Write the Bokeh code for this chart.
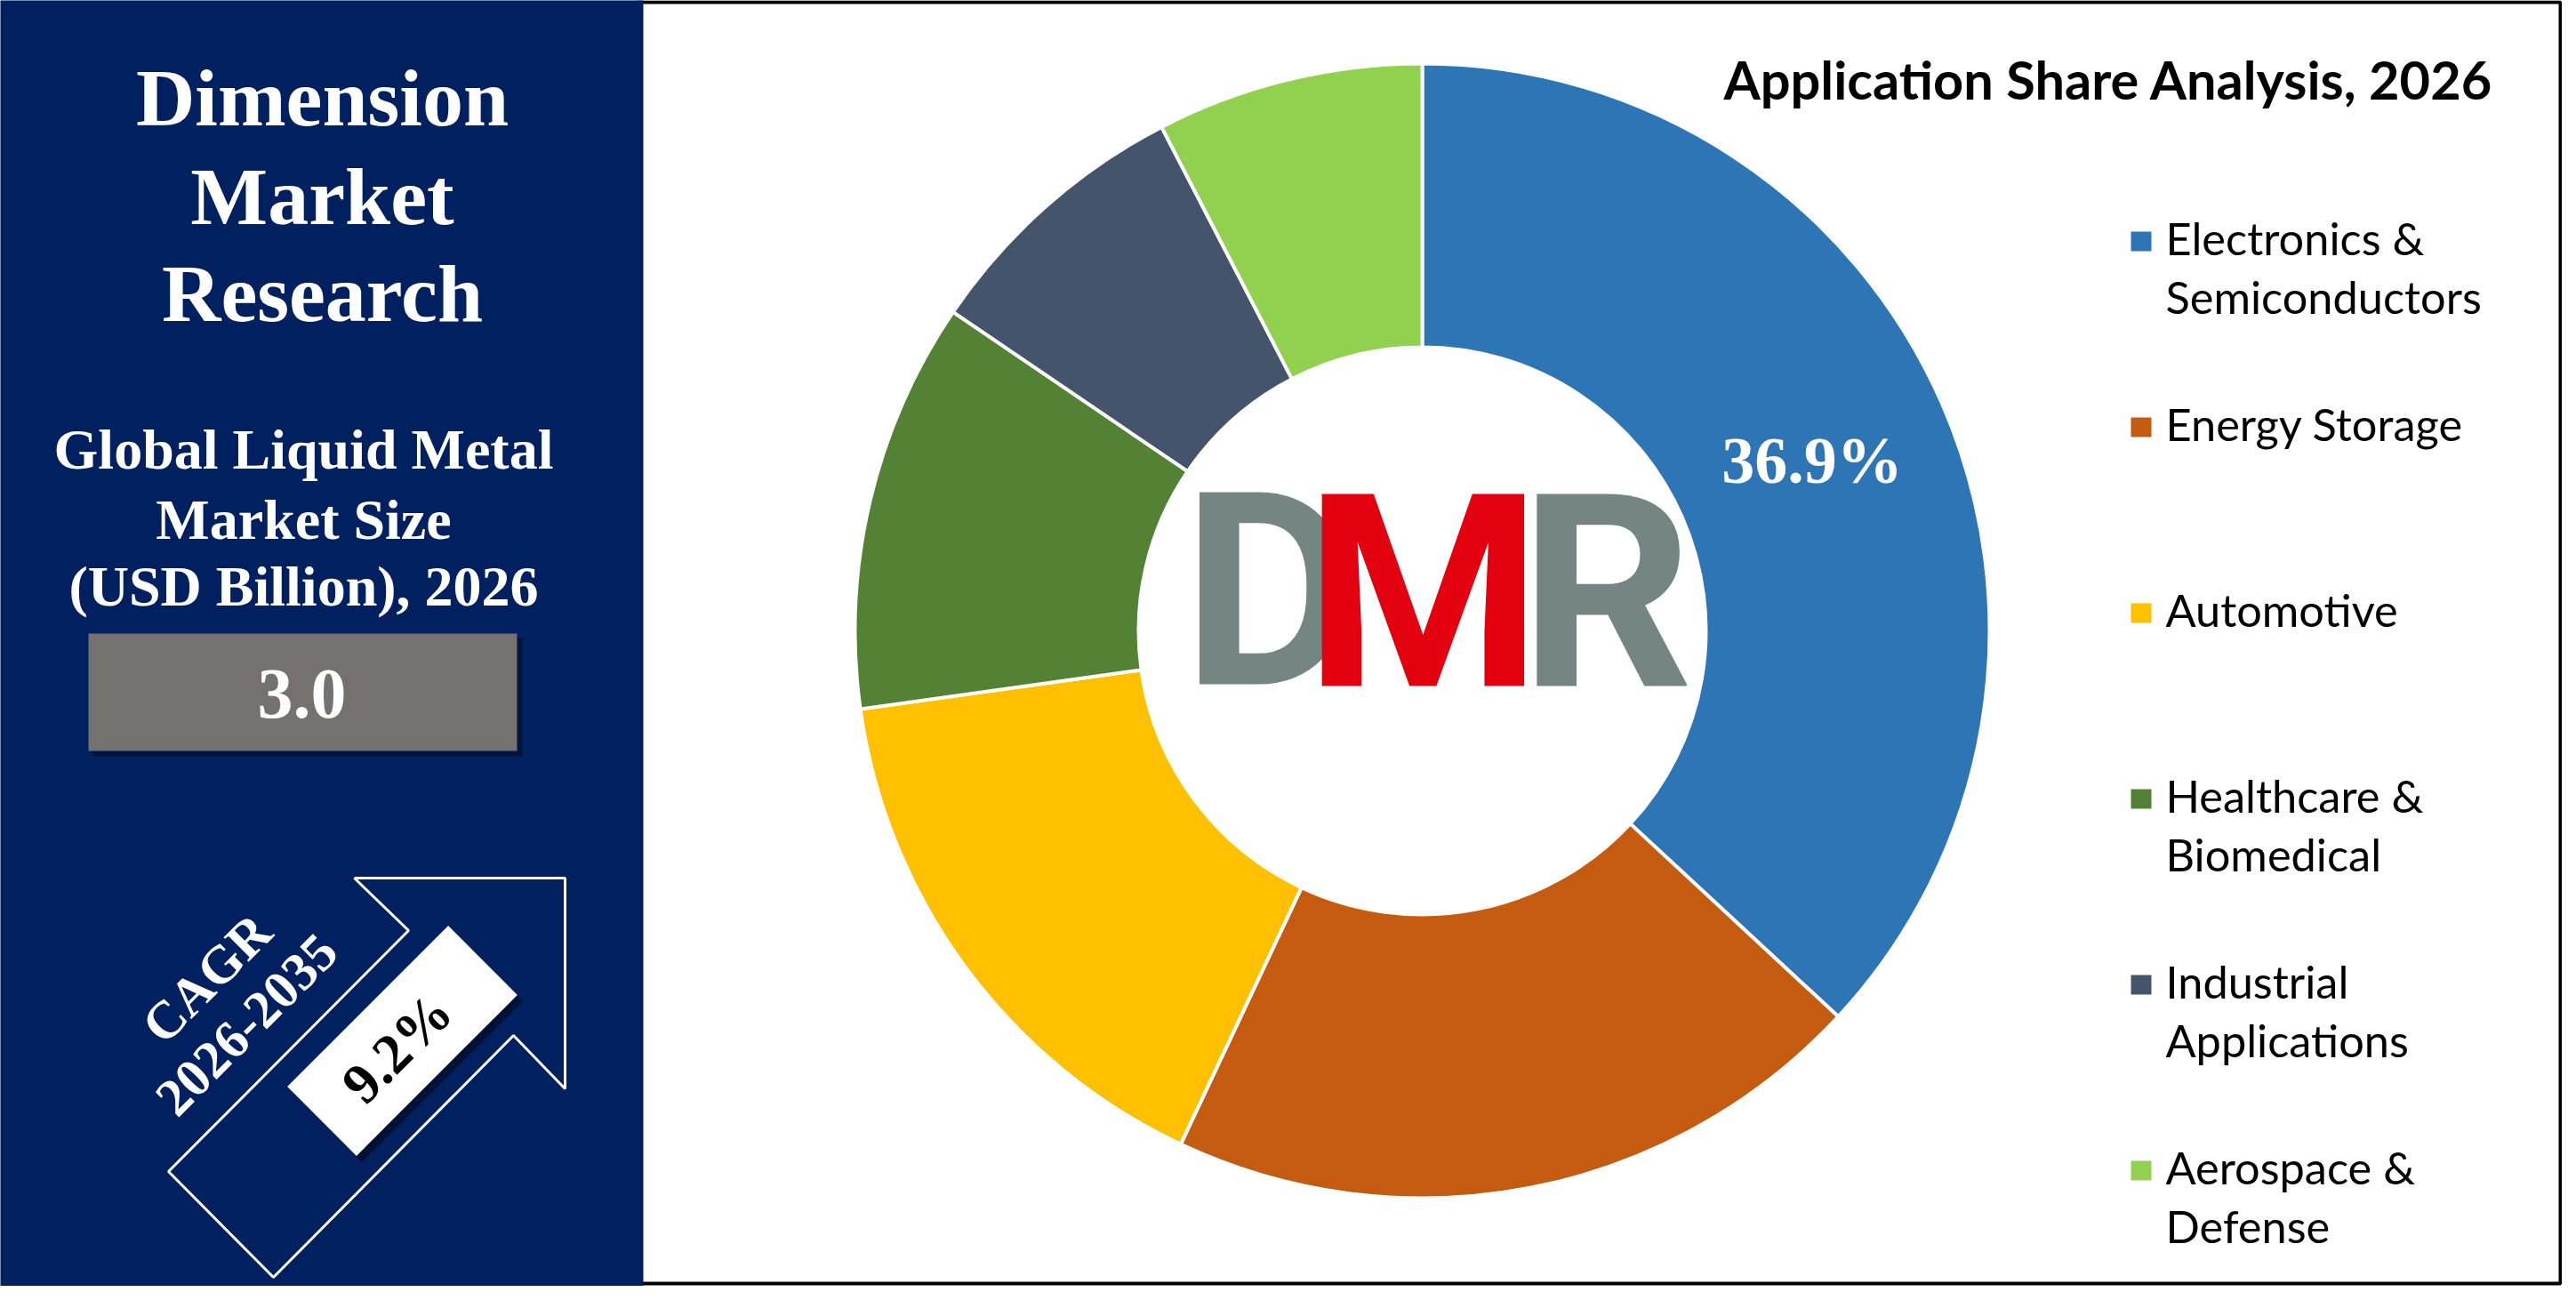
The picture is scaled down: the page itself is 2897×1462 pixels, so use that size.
import numpy as np
from bokeh.plotting import figure
from bokeh.models import Range1d, ColumnDataSource
from bokeh.embed import file_html
from bokeh.resources import INLINE
from bokeh.core.properties import value

# ---------------- data ----------------
categories = ["Electronics & Semiconductors", "Energy Storage", "Automotive",
              "Healthcare & Biomedical", "Industrial Applications", "Aerospace & Defense"]
legend_lines = [["Electronics &", "Semiconductors"], ["Energy Storage"], ["Automotive"],
                ["Healthcare &", "Biomedical"], ["Industrial", "Applications"],
                ["Aerospace &", "Defense"]]
shares = [36.9, 20.1, 15.8, 11.7, 7.9, 7.6]
colors = ["#2E75B6", "#C55A11", "#FFC000", "#548235", "#44546A", "#92D050"]
shown_label = [True, False, False, False, False, False]
chart_title = "Application Share Analysis, 2026"
brand_lines = ["Dimension", "Market", "Research"]
size_lines = ["Global Liquid Metal", "Market Size", "(USD Billion), 2026"]
market_size = "3.0"
cagr_value = "9.2%"
cagr_lines = ["CAGR", "2026-2035"]

# ---------------- canvas ----------------
W_REF, H_REF = 2897, 1462
M = 8
FW, FH = W_REF - 2 * M, H_REF - 2 * M


def Y(y):
    return FH - y


p = figure(width=FW, height=FH, x_range=Range1d(0, FW), y_range=Range1d(0, FH),
           output_backend="svg", toolbar_location=None, min_border=0,
           x_axis_location=None, y_axis_location=None)
p.grid.grid_line_color = None
p.outline_line_color = None
p.background_fill_color = "white"
p.border_fill_color = "white"

SERIF = value("Liberation Serif")
SANS = value("Lato")
LOGO = value("Roboto")

# white panel with black frame
p.quad(left=715, right=FW - 2, top=Y(2), bottom=Y(FH - 3), fill_color="white",
       line_color="black", line_width=4)

# navy panel
p.quad(left=-10, right=723, top=Y(-10), bottom=Y(FH + 10), fill_color="#002060",
       line_color=None)

# ---------------- donut ----------------
cx, cy = 1599, Y(709)
r_in, r_out = 319, 638
frac = np.array(shares) / np.sum(shares)
cum = np.concatenate([[0], np.cumsum(frac)])
start = np.pi / 2 - 2 * np.pi * cum[1:]
end = np.pi / 2 - 2 * np.pi * cum[:-1]
src = ColumnDataSource(dict(start=start, end=end, color=colors, cat=categories))
p.annular_wedge(x=cx, y=cy, inner_radius=r_in, outer_radius=r_out, start_angle="start",
                end_angle="end", fill_color="color", line_color="white", line_width=4,
                direction="anticlock", source=src)

mid = (start + end) / 2
r_mid = (r_in + r_out) / 2
lab_x = [cx + r_mid * np.cos(a) for a, s in zip(mid, shown_label) if s]
lab_y = [cy + r_mid * np.sin(a) for a, s in zip(mid, shown_label) if s]
lab_t = [f"{v:.1f}%" for v, s in zip(shares, shown_label) if s]
p.text(x=lab_x, y=lab_y, text=lab_t, text_color="white", text_font=SERIF,
       text_font_style="bold", text_font_size="74px", text_align="center",
       text_baseline="middle")

# logo in the hole
p.text(x=[1428], y=[Y(665)], text=["D"], text_color="#758582", text_font=LOGO,
       text_font_style="bold", text_font_size="304px", text_align="center",
       text_baseline="middle")
p.text(x=[1600], y=[Y(667)], text=["M"], text_color="#E3000F", text_font=LOGO,
       text_font_style="bold", text_font_size="304px", text_align="center",
       text_baseline="middle")
p.text(x=[1806], y=[Y(667)], text=["R"], text_color="#758582", text_font=LOGO,
       text_font_style="bold", text_font_size="304px", text_align="center",
       text_baseline="middle")

# ---------------- title ----------------
p.text(x=[1938], y=[Y(88)], text=[chart_title], text_color="black", text_font=SANS,
       text_font_style="bold", text_font_size="59.5px", text_align="left",
       text_baseline="middle")

# ---------------- legend ----------------
leg_y0, leg_dy, line_dy = 267, 209, 66
sq_y = [Y(leg_y0 + 4 + i * leg_dy) for i in range(len(categories))]
p.rect(x=[2407.5] * len(categories), y=sq_y, width=23, height=22, fill_color=colors,
       line_color=None)
tx, ty, tt = [], [], []
for i, lines in enumerate(legend_lines):
    for j, ln in enumerate(lines):
        tx.append(2435)
        ty.append(Y(leg_y0 + i * leg_dy + j * line_dy))
        tt.append(ln)
p.text(x=tx, y=ty, text=tt, text_color="black", text_font=SANS, text_font_size="50.5px",
       text_align="left", text_baseline="middle")

# ---------------- left panel ----------------
p.text(x=[362] * 3, y=[Y(109), Y(220), Y(329)], text=brand_lines, text_color="white",
       text_font=SERIF, text_font_style="bold", text_font_size="92px", text_align="center",
       text_baseline="middle")
p.text(x=[341] * 3, y=[Y(505), Y(584), Y(659)], text=size_lines, text_color="white",
       text_font=SERIF, text_font_style="bold", text_font_size="64px", text_align="center",
       text_baseline="middle")

# value box
p.quad(left=104, right=587, top=Y(717), bottom=Y(850), fill_color="black", fill_alpha=0.35,
       line_color=None)
p.quad(left=99, right=581, top=Y(712), bottom=Y(844), fill_color="#767171", line_color=None)
p.text(x=[339], y=[Y(780)], text=[market_size], text_color="white", text_font=SERIF,
       text_font_style="bold", text_font_size="80px", text_align="center",
       text_baseline="middle")

# arrow outline
ax = [398, 635, 635, 577, 307, 189, 459, 398]
ay = [987, 987, 1224, 1164, 1436, 1317, 1046, 987]
p.line(x=ax, y=[Y(v) for v in ay], line_color="white", line_width=3)

# CAGR box
p.rect(x=[458], y=[Y(1177)], width=256, height=110, angle=np.pi / 4, fill_color="black",
       fill_alpha=0.45, line_color=None)
p.rect(x=[452], y=[Y(1170)], width=256, height=110, angle=np.pi / 4, fill_color="white",
       line_color=None)
p.text(x=[446], y=[Y(1178)], text=[cagr_value], text_color="black", text_font=SERIF,
       text_font_style="bold", text_font_size="64px", text_align="center",
       text_baseline="middle", angle=np.pi / 4)

p.text(x=[232, 277], y=[Y(1100), Y(1152)], text=cagr_lines, text_color="white",
       text_font=SERIF, text_font_style="bold", text_font_size="60px", text_align="center",
       text_baseline="middle", angle=np.radians(45))

open("out.html", "w").write(file_html(p, INLINE))
